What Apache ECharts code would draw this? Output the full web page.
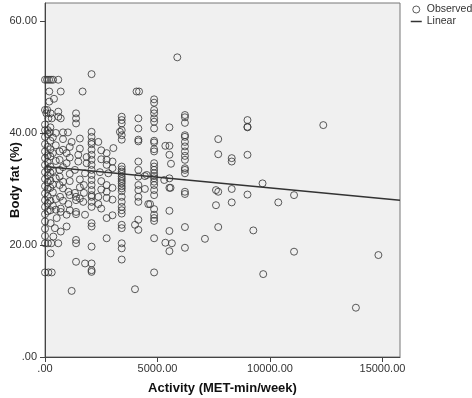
<!DOCTYPE html>
<html>
<head>
<meta charset="utf-8">
<script src="https://cdn.jsdelivr.net/npm/echarts@6/dist/echarts.min.js"></script>
<style>
  html, body { margin: 0; padding: 0; background: #fff; }
  #chart { width: 472px; height: 398px; }
</style>
</head>
<body>
<div id="chart"></div>
<script>
// activity (MET-min/week) and body fat (%) of each observed point
var activity = [
  5880, 2070, 0, 90, 180, 270, 360, 590,
  190, 700, 1670, 4070, 4180, 400, 190,
  0, 100, 250, 60, 150, 300, 0, 120, 220,
  590, 590, 700, 1380, 1380, 1380,
  3410, 3410, 3410, 3410, 3410, 3410,
  4150, 4150, 4150, 4150, 800, 1020,
  2070, 2070, 2070, 2070, 2070, 2070, 2070, 2070, 2070, 2070, 2070, 2070,
  2070, 2070, 2070, 2070, 2070, 2070, 2070, 2070, 2070, 2070, 2070,
  1185, 2370, 3040, 3330, 2740, 2740, 2740, 1850, 1850, 1480, 1480,
  960, 960, 650, 650, 650,
  3410, 3410, 3410, 3410, 3410, 3410, 3410, 3410, 3410, 3410, 3410,
  3410, 3410, 3410, 3410, 3410, 3410, 3410, 3410, 3410, 3410,
  4150, 4150, 4150, 4150, 4150, 4150, 4150, 4150, 4150, 4000,
  4520, 4590, 1780, 2440, 2815, 1330, 1730, 1730, 2740, 2740, 1330, 1040, 650, 650,
  670, 1380, 1380, 1700, 2370, 2370, 2740,
  700, 700, 1040, 520, 960, 1380, 1380, 1780, 2740,
  250, 440, 700, 960, 370, 1380, 1380, 2740,
  0, 130, 280, 590, 250, 1380, 1780, 0, 150, 300, 1185, 4000,
  4850, 4850, 4850, 4850, 4850, 4850, 4850, 4850, 4850, 4850, 4850, 4850, 4850, 4850,
  4850, 4850, 4850, 4850, 4850, 4850, 4850, 4850, 4850, 4850, 4850, 4850, 4850,
  4440, 4440, 4670,
  5530, 5350, 5530, 5530, 5600, 5530, 5300, 5530, 5580, 5530, 5530, 5350, 5640, 5530,
  6220, 6220, 6220, 6220, 6220, 6220, 6220, 6220, 6220, 6220, 6220, 6220, 6220, 6220,
  6220, 6220, 6220,
  7110, 7700, 7700, 7600, 7700, 7600, 7700,
  8300, 8300, 8300, 8300, 9000, 9000, 9000, 9000, 9000,
  9260, 9670, 9700, 10370, 11070, 11070, 12370, 14820, 13820,
  0, 0, 0, 0, 0, 0, 0, 0, 0, 0, 0, 0, 0, 0, 0, 0,
  120, 120, 120, 120, 120, 120, 120, 120, 120, 120, 120,
  240, 240, 240, 240, 240, 240, 240, 240, 240, 240,
  350, 350, 350, 350, 350, 350,
  480, 480, 480, 480, 480, 480,
  800, 800, 800, 800, 800, 800,
  1100, 1100, 1100, 1100, 1100, 1100,
  1550, 1550, 1550, 1550, 1550,
  2500, 2500, 2500, 2500, 2500,
  3000, 3000, 3000, 3000, 3000
]
var bodyFat = [
  53.5, 50.5, 49.5, 49.5, 49.5, 49.5, 49.5, 49.5,
  47.4, 47.4, 47.4, 47.4, 47.4, 46.1, 45.6,
  44.1, 44.1, 43.5, 43.5, 42.6, 42.6, 41.5, 40.5, 40.1,
  43.8, 42.9, 42.6, 43.5, 42.6, 41.7,
  42.9, 42.3, 41.7, 40.5, 39.6, 38.8,
  42.6, 40.8, 38.8, 38.5, 40.1, 40.1,
  40.2, 39.3, 38.4, 38.0, 37.0, 36.1, 35.2, 34.3, 33.4, 32.5, 31.6, 30.7,
  29.8, 28.9, 28.6, 27.7, 26.8, 23.9, 23.3, 19.7, 16.7, 15.5, 15.2,
  38.4, 38.4, 37.3, 40.2, 36.4, 35.2, 34.3, 35.7, 34.6, 36.1, 34.9,
  36.4, 34.6, 36.7, 35.2, 33.4,
  34.0, 33.5, 33.1, 32.7, 32.2, 31.8, 31.4, 31.0, 30.5, 30.1, 29.6,
  28.6, 27.7, 26.8, 26.2, 25.6, 23.6, 23.0, 20.3, 19.4, 17.4,
  34.9, 33.4, 32.2, 30.7, 29.8, 28.6, 27.7, 24.5, 22.7, 23.6,
  32.5, 27.3, 32.8, 33.0, 32.8, 33.4, 30.7, 29.3, 30.7, 29.5, 29.3, 29.5, 32.2, 30.7,
  28.6, 28.6, 28.0, 27.7, 28.6, 27.3, 28.4,
  26.5, 25.9, 27.3, 24.8, 25.4, 25.9, 25.5, 25.4, 24.8,
  23.9, 23.0, 22.4, 23.3, 21.5, 20.9, 20.3, 21.2,
  20.3, 20.3, 20.3, 20.3, 18.5, 17.0, 16.7, 15.1, 15.1, 15.1, 11.8, 12.1,
  46.0, 45.4, 44.1, 43.5, 42.6, 42.0, 40.8, 38.6, 38.3, 37.1, 36.7, 34.6, 34.0, 33.4,
  32.8, 32.3, 31.9, 31.3, 30.7, 29.8, 28.9, 26.4, 25.4, 24.8, 24.3, 21.2, 15.1,
  32.3, 30.0, 27.3,
  41.0, 37.7, 37.7, 36.1, 34.5, 31.9, 31.6, 30.2, 30.2, 26.1, 22.5, 20.4, 20.3, 18.9,
  43.2, 42.8, 41.8, 39.6, 39.3, 38.4, 37.6, 36.7, 35.9, 35.2, 33.7, 33.4, 32.8, 29.5,
  29.1, 23.2, 19.5,
  21.1, 38.9, 36.2, 29.8, 29.5, 27.1, 23.2,
  35.5, 34.9, 30.0, 27.6, 42.3, 41.1, 41.0, 36.1, 29.0,
  22.6, 31.0, 14.8, 27.6, 28.9, 18.8, 41.4, 18.2, 8.8,
  40.5, 39.3, 38.0, 36.7, 35.5, 34.3, 33.0, 31.8, 30.5, 29.2, 28.0, 26.8, 25.5, 24.2, 22.9, 21.6,
  39.8, 37.5, 36.0, 34.8, 33.6, 32.4, 31.2, 30.0, 28.7, 27.4, 26.0,
  41.0, 38.6, 37.1, 35.8, 34.0, 32.9, 31.5, 30.2, 27.9, 26.2,
  39.2, 36.4, 33.2, 30.8, 29.4, 27.0,
  40.0, 37.8, 35.0, 31.9, 28.2, 26.3,
  38.9, 37.0, 33.9, 31.3, 30.1, 27.9,
  37.5, 35.6, 32.7, 31.4, 28.9, 26.2,
  39.0, 37.2, 31.7, 30.3, 28.3,
  36.9, 35.3, 31.4, 29.9, 26.5,
  34.9, 33.7, 30.2, 28.1, 25.3
]
// fitted line, ends read at the plot edges
var fitX = [0, 15780]
var fitY = [34.0, 28.0]
var xTicks = [0, 5000, 10000, 15000]
var yTicks = [0, 20, 40, 60]

var observed = activity.map(function (x, i) { return [x, bodyFat[i]] })
var linear = fitX.map(function (x, i) { return [x, fitY[i]] })

function fmt(v) {
  return v === 0 ? '.00' : v.toFixed(2)
}

var chart = echarts.init(document.getElementById('chart'))
chart.setOption({
  animation: false,
  textStyle: { fontFamily: 'Liberation Sans, Arial, sans-serif' },
  grid: {
    left: 45, top: 3, right: 72, bottom: 41,
    containLabel: false,
    outerBoundsMode: 'none',
    show: true,
    backgroundColor: '#f0f0f0',
    borderColor: '#777',
    borderWidth: 1
  },
  legend: {
    orient: 'vertical',
    left: 410,
    top: 4,
    padding: 0,
    itemWidth: 11,
    itemHeight: 7,
    itemGap: 1,
    textStyle: { fontSize: 10.5, color: '#333', lineHeight: 11 },
    data: [
      { name: 'Observed', icon: 'circle', itemStyle: { color: 'rgba(0,0,0,0)', borderColor: '#333', borderWidth: 1 } },
      { name: 'Linear', itemStyle: { opacity: 0 }, lineStyle: { color: '#333', width: 1.5 } }
    ]
  },
  xAxis: {
    type: 'value',
    min: 0,
    max: 15780,
    splitLine: { show: false },
    axisLine: { lineStyle: { color: '#444' } },
    axisTick: { customValues: xTicks, length: 5, lineStyle: { color: '#444' } },
    axisLabel: { customValues: xTicks, formatter: fmt, fontSize: 11, color: '#333', margin: 6 },
    name: 'Activity (MET-min/week)',
    nameLocation: 'middle',
    nameGap: 25,
    nameMoveOverlap: false,
    nameTextStyle: { fontSize: 13, fontWeight: 'bold', color: '#111' }
  },
  yAxis: {
    type: 'value',
    min: 0,
    max: 63.2,
    splitLine: { show: false },
    axisLine: { lineStyle: { color: '#444' } },
    axisTick: { customValues: yTicks, length: 5, lineStyle: { color: '#444' } },
    axisLabel: { customValues: yTicks, formatter: fmt, fontSize: 11, color: '#333', margin: 8 },
    name: 'Body fat (%)',
    nameLocation: 'middle',
    nameGap: 23,
    nameRotate: 90,
    nameMoveOverlap: false,
    nameTextStyle: { fontSize: 13, fontWeight: 'bold', color: '#111' }
  },
  series: [{
    name: 'Observed',
    type: 'scatter',
    symbol: 'circle',
    symbolSize: 7,
    itemStyle: { color: 'rgba(0,0,0,0)', borderColor: '#333', borderWidth: 1 },
    data: observed
  }, {
    name: 'Linear',
    type: 'line',
    symbol: 'none',
    lineStyle: { color: '#333', width: 1.5 },
    itemStyle: { color: '#333' },
    data: linear
  }]
})
</script>
</body>
</html>
